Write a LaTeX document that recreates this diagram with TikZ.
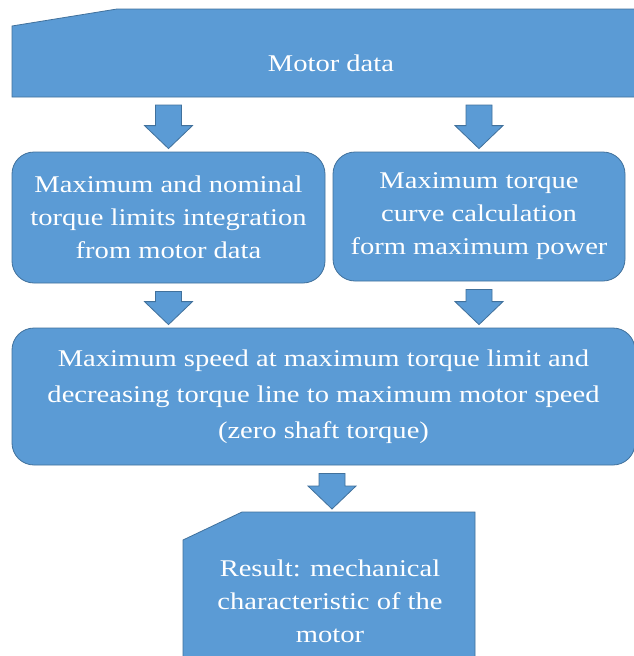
\documentclass[tikz,border=0pt]{standalone}
\usepackage{fontspec}
\newfontfamily\boxfont{Liberation Serif}[FakeStretch=1.19]
\usetikzlibrary{calc}
\definecolor{boxblue}{HTML}{5B9BD5}
\definecolor{edgeblue}{HTML}{41719C}
\tikzset{
  shapefill/.style={fill=boxblue, draw=edgeblue, line width=0.8pt},
  boxtext/.style={text=white, align=center, inner sep=0pt,
    font=\boxfont\fontsize{24}{33}\selectfont},
  flowbox/.style={shapefill, boxtext, rounded corners=22pt},
  plainlabel/.style={boxtext},
  blockarrow/.style={shapefill, line join=miter},
}
% thick downward block arrow from the bottom of #1 to the top of #2
\newcommand\downblock[2]{%
  \path[blockarrow] let \p1=(#1), \p2=(#2) in
    (\x1-13pt,\y1-8pt) -- (\x1+13pt,\y1-8pt) -- (\x1+13pt,\y2+26pt)
    -- (\x1+24pt,\y2+26pt) -- (\x1,\y2+3pt) -- (\x1-24pt,\y2+26pt)
    -- (\x1-13pt,\y2+26pt) -- cycle;}
\begin{document}
\begin{tikzpicture}[x=1pt, y=-1pt]
  \clip (0,0) rectangle (634,656);
  \fill[white] (0,0) rectangle (634,656);

  % manual input: motor data
  \path[shapefill] (12,26) -- (117,9) -- (650,9) -- (650,97) -- (12,97) -- cycle;
  \node[plainlabel] (motor) at (331,63) {Motor data};
  \coordinate (motorbase) at (331,97);

  % two parallel processing steps
  \node[flowbox, minimum width=313pt, minimum height=131pt] (limits) at (168.5,217.5)
    {Maximum and nominal\\torque limits integration\\from motor data};
  \node[flowbox, minimum width=292pt, minimum height=129pt] (curve) at (479,216.5)
    {Maximum torque\\curve calculation\\form maximum power};

  % combined step
  \node[flowbox, minimum width=623pt, minimum height=137pt,
        font=\boxfont\fontsize{24}{36}\selectfont] (speed) at (323.5,396.5)
    {Maximum speed at maximum torque limit and\\decreasing torque line to maximum motor speed\\(zero shaft torque)};

  % result: manual input shape
  \path[shapefill] (183,540) -- (242,512) -- (475,512) -- (475,680) -- (183,680) -- cycle;
  \node[plainlabel] (result) at (330,601)
    {Result: mechanical\\characteristic of the\\motor};
  \coordinate (resulttop) at (332,512);

  % connectors
  \downblock{motorbase -| limits.north}{limits.north}
  \downblock{motorbase -| curve.north}{curve.north}
  \downblock{limits.south}{speed.north -| limits.south}
  \downblock{curve.south}{speed.north -| curve.south}
  \downblock{speed.south -| resulttop}{resulttop}
\end{tikzpicture}
\end{document}
